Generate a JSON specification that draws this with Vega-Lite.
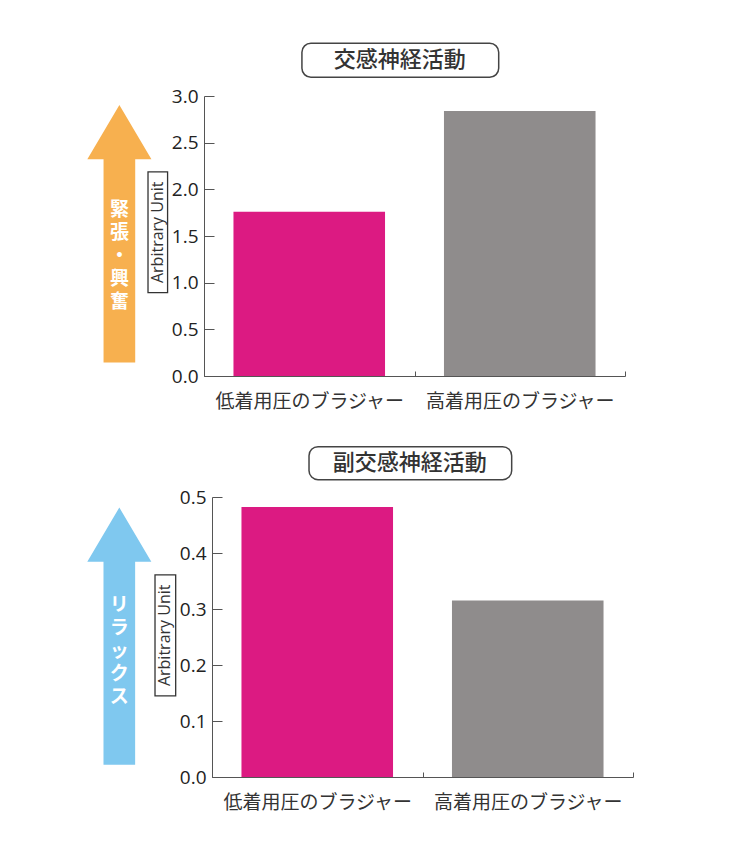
{
  "$schema": "https://vega.github.io/schema/vega-lite/v6.json",
  "padding": {"left": 87, "top": 42, "right": 5, "bottom": 5},
  "background": "white",
  "spacing": 34,
  "config": {"view": {"stroke": null}, "font": "Noto Sans CJK JP"},
  "vconcat": [
    {
      "width": 421,
      "height": 280,
      "resolve": {"scale": {"x": "independent"}, "axis": {"x": "independent"}},
      "layer": [
        {
          "data": {"values": [
            {"bra": "低着用圧のブラジャー", "value": 1.76},
            {"bra": "高着用圧のブラジャー", "value": 2.84}
          ]},
          "mark": {"type": "bar", "width": {"band": 0.72}},
          "encoding": {
            "x": {"field": "bra", "type": "nominal", "sort": null,
              "scale": {"paddingInner": 0, "paddingOuter": 0},
              "axis": {"title": null, "tickBand": "extent", "tickSize": -5, "labelAngle": 0, "labelLimit": 0, "labelFontSize": 19, "labelColor": "#333", "labelPadding": 21, "domainColor": "#555", "tickColor": "#555", "labelFont": "Noto Sans CJK JP"}},
            "y": {"field": "value", "type": "quantitative",
              "scale": {"domain": [0, 3], "nice": false},
              "axis": {"title": null, "values": [0, 0.5, 1, 1.5, 2, 2.5, 3], "format": ".1f", "tickSize": -10, "labelPadding": 16, "grid": false, "labelFontSize": 19, "labelColor": "#222", "labelFont": "Open Sans", "domainColor": "#555", "tickColor": "#555"}},
            "color": {"field": "bra", "type": "nominal", "scale": {"range": ["#dc1a82", "#8f8c8c"]}, "legend": null}
          }
        },
        {
          "data": {"values": [{}]},
          "mark": {"type": "point", "shape": "M0,-1L0.249,-0.578L0.123,-0.578L0.123,1L-0.123,1L-0.123,-0.578L-0.249,-0.578Z", "size": 66300, "filled": true, "color": "#f7b04f", "opacity": 1, "strokeWidth": 0},
          "encoding": {
            "x": {"datum": -0.201, "type": "quantitative", "scale": {"domain": [0, 1], "nice": false, "zero": false}, "axis": null},
            "y": {"datum": 1.524, "type": "quantitative"}
          }
        },
        {
          "data": {"values": [{}]},
          "mark": {"type": "text", "text": ["緊", "張", "・", "興", "奮"], "lineHeight": 23, "fontSize": 19, "fontWeight": "bold", "color": "white", "align": "center", "baseline": "middle", "font": "Noto Sans CJK JP"},
          "encoding": {
            "x": {"datum": -0.201, "type": "quantitative", "scale": {"domain": [0, 1], "nice": false, "zero": false}, "axis": null},
            "y": {"datum": 1.779, "type": "quantitative"}
          }
        },
        {
          "data": {"values": [{}]},
          "mark": {"type": "rect", "filled": false, "stroke": "#333", "strokeWidth": 1.3},
          "encoding": {
            "x": {"datum": -0.133, "type": "quantitative", "scale": {"domain": [0, 1], "nice": false, "zero": false}, "axis": null},
            "x2": {"datum": -0.0865},
            "y": {"datum": 2.186, "type": "quantitative"},
            "y2": {"datum": 0.894}
          }
        },
        {
          "data": {"values": [{}]},
          "mark": {"type": "text", "text": "Arbitrary Unit", "angle": 270, "fontSize": 16, "color": "#333", "align": "center", "baseline": "middle", "font": "Open Sans"},
          "encoding": {
            "x": {"datum": -0.11, "type": "quantitative", "scale": {"domain": [0, 1], "nice": false, "zero": false}, "axis": null},
            "y": {"datum": 1.54, "type": "quantitative"}
          }
        },
        {
          "data": {"values": [{}]},
          "mark": {"type": "rect", "filled": false, "stroke": "#444", "strokeWidth": 1.5, "cornerRadius": 9},
          "encoding": {
            "x": {"datum": 0.2326, "type": "quantitative", "scale": {"domain": [0, 1], "nice": false, "zero": false}, "axis": null},
            "x2": {"datum": 0.7},
            "y": {"datum": 3.565, "type": "quantitative"},
            "y2": {"datum": 3.201}
          }
        },
        {
          "data": {"values": [{}]},
          "mark": {"type": "text", "text": "交感神経活動", "fontSize": 22, "fontWeight": 500, "color": "#333", "align": "center", "baseline": "middle", "font": "Noto Sans CJK JP"},
          "encoding": {
            "x": {"datum": 0.4647, "type": "quantitative", "scale": {"domain": [0, 1], "nice": false, "zero": false}, "axis": null},
            "y": {"datum": 3.382, "type": "quantitative"}
          }
        }
      ]
    },
    {
      "width": 429,
      "height": 280,
      "resolve": {"scale": {"x": "independent"}, "axis": {"x": "independent"}},
      "layer": [
        {
          "data": {"values": [
            {"bra": "低着用圧のブラジャー", "value": 0.482},
            {"bra": "高着用圧のブラジャー", "value": 0.315}
          ]},
          "mark": {"type": "bar", "width": {"band": 0.72}},
          "encoding": {
            "x": {"field": "bra", "type": "nominal", "sort": null,
              "scale": {"paddingInner": 0, "paddingOuter": 0, "range": [8, 429]},
              "axis": {"title": null, "tickBand": "extent", "tickSize": -5, "labelAngle": 0, "labelLimit": 0, "labelFontSize": 19, "labelColor": "#333", "labelPadding": 21, "domainColor": "#555", "tickColor": "#555", "labelFont": "Noto Sans CJK JP"}},
            "y": {"field": "value", "type": "quantitative",
              "scale": {"domain": [0, 0.5], "nice": false},
              "axis": {"title": null, "offset": -8, "values": [0, 0.1, 0.2, 0.3, 0.4, 0.5], "format": ".1f", "tickSize": -10, "labelPadding": 16, "grid": false, "labelFontSize": 19, "labelColor": "#222", "labelFont": "Open Sans", "domainColor": "#555", "tickColor": "#555"}},
            "color": {"field": "bra", "type": "nominal", "scale": {"range": ["#dc1a82", "#8f8c8c"]}, "legend": null}
          }
        },
        {
          "data": {"values": [{}]},
          "mark": {"type": "point", "shape": "M0,-1L0.249,-0.578L0.123,-0.578L0.123,1L-0.123,1L-0.123,-0.578L-0.249,-0.578Z", "size": 66200, "filled": true, "color": "#7fc8ef", "opacity": 1, "strokeWidth": 0},
          "encoding": {
            "x": {"datum": -0.1974, "type": "quantitative", "scale": {"domain": [0, 1], "nice": false, "zero": false}, "axis": null},
            "y": {"datum": 0.2515, "type": "quantitative"}
          }
        },
        {
          "data": {"values": [{}]},
          "mark": {"type": "text", "text": ["リ", "ラ", "ッ", "ク", "ス"], "lineHeight": 23, "fontSize": 19, "fontWeight": "bold", "color": "white", "align": "center", "baseline": "middle", "font": "Noto Sans CJK JP"},
          "encoding": {
            "x": {"datum": -0.1974, "type": "quantitative", "scale": {"domain": [0, 1], "nice": false, "zero": false}, "axis": null},
            "y": {"datum": 0.307, "type": "quantitative"}
          }
        },
        {
          "data": {"values": [{}]},
          "mark": {"type": "rect", "filled": false, "stroke": "#333", "strokeWidth": 1.3},
          "encoding": {
            "x": {"datum": -0.1142, "type": "quantitative", "scale": {"domain": [0, 1], "nice": false, "zero": false}, "axis": null},
            "x2": {"datum": -0.066},
            "y": {"datum": 0.3611, "type": "quantitative"},
            "y2": {"datum": 0.1448}
          }
        },
        {
          "data": {"values": [{}]},
          "mark": {"type": "text", "text": "Arbitrary Unit", "angle": 270, "fontSize": 16, "color": "#333", "align": "center", "baseline": "middle", "font": "Open Sans"},
          "encoding": {
            "x": {"datum": -0.0902, "type": "quantitative", "scale": {"domain": [0, 1], "nice": false, "zero": false}, "axis": null},
            "y": {"datum": 0.253, "type": "quantitative"}
          }
        },
        {
          "data": {"values": [{}]},
          "mark": {"type": "rect", "filled": false, "stroke": "#444", "strokeWidth": 1.5, "cornerRadius": 9},
          "encoding": {
            "x": {"datum": 0.2448, "type": "quantitative", "scale": {"domain": [0, 1], "nice": false, "zero": false}, "axis": null},
            "x2": {"datum": 0.7172},
            "y": {"datum": 0.5899, "type": "quantitative"},
            "y2": {"datum": 0.5309}
          }
        },
        {
          "data": {"values": [{}]},
          "mark": {"type": "text", "text": "副交感神経活動", "fontSize": 22, "fontWeight": 500, "color": "#333", "align": "center", "baseline": "middle", "font": "Noto Sans CJK JP"},
          "encoding": {
            "x": {"datum": 0.4795, "type": "quantitative", "scale": {"domain": [0, 1], "nice": false, "zero": false}, "axis": null},
            "y": {"datum": 0.5604, "type": "quantitative"}
          }
        }
      ]
    }
  ]
}
